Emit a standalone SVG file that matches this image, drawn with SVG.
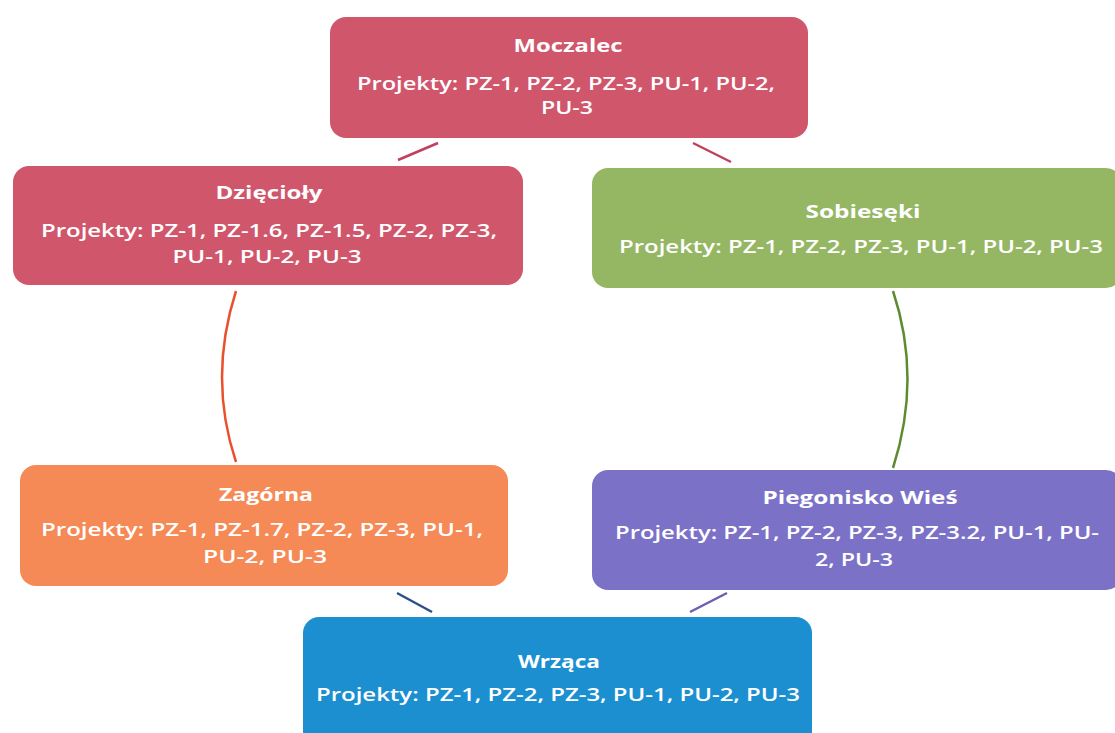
<svg xmlns="http://www.w3.org/2000/svg" width="1115" height="733" viewBox="0 0 1115 733">
<style>
.t{font-family:"Open Sans","Liberation Sans",sans-serif;font-weight:bold;font-size:18px;fill:#fff;text-anchor:middle}
.b{font-family:"Open Sans","Liberation Sans",sans-serif;font-weight:600;font-size:18px;fill:#fff;text-anchor:middle}
.c{fill:none;stroke-width:2.5}
</style>
<rect width="1115" height="733" fill="#fff"/>
<g id="connectors">
<path class="c" stroke="#c0405e" d="M438,143 L398,160"/>
<path class="c" stroke="#c0405e" d="M693,143 L731,162"/>
<path class="c" stroke="#5e8a30" stroke-width="2" d="M893,291 Q922,378 893,468"/>
<path class="c" stroke="#6a5fb5" d="M727,593 L690,612"/>
<path class="c" stroke="#2c4f8a" d="M397,593 L432,612"/>
<path class="c" stroke="#e8502e" stroke-width="1.5" d="M236,291 Q208,378 236,462"/>
</g>
<g id="moczalec">
<rect x="330" y="17" width="478" height="121" rx="16" fill="#d0566c"/>
<text class="t" x="568" y="52" textLength="109" lengthAdjust="spacingAndGlyphs">Moczalec</text>
<text class="b" x="566" y="90" textLength="418" lengthAdjust="spacingAndGlyphs">Projekty: PZ-1, PZ-2, PZ-3, PU-1, PU-2,</text>
<text class="b" x="567" y="114" textLength="52" lengthAdjust="spacingAndGlyphs">PU-3</text>
</g>
<g id="dziecioly">
<rect x="13" y="166" width="510" height="119" rx="16" fill="#d0566c"/>
<text class="t" x="269" y="199" textLength="107" lengthAdjust="spacingAndGlyphs">Dzięcioły</text>
<text class="b" x="269" y="237" textLength="456" lengthAdjust="spacingAndGlyphs">Projekty: PZ-1, PZ-1.6, PZ-1.5, PZ-2, PZ-3,</text>
<text class="b" x="267" y="263" textLength="189" lengthAdjust="spacingAndGlyphs">PU-1, PU-2, PU-3</text>
</g>
<g id="sobieski">
<rect x="592" y="168" width="530" height="120" rx="16" fill="#95b763"/>
<text class="t" x="863" y="218" textLength="115" lengthAdjust="spacingAndGlyphs">Sobiesęki</text>
<text class="b" x="861" y="253" textLength="484" lengthAdjust="spacingAndGlyphs">Projekty: PZ-1, PZ-2, PZ-3, PU-1, PU-2, PU-3</text>
</g>
<g id="zagorna">
<rect x="20" y="465" width="488" height="121" rx="16" fill="#f58a57"/>
<text class="t" x="266" y="501" textLength="94" lengthAdjust="spacingAndGlyphs">Zagórna</text>
<text class="b" x="262" y="536" textLength="442" lengthAdjust="spacingAndGlyphs">Projekty: PZ-1, PZ-1.7, PZ-2, PZ-3, PU-1,</text>
<text class="b" x="265" y="563" textLength="124" lengthAdjust="spacingAndGlyphs">PU-2, PU-3</text>
</g>
<g id="piegonisko">
<rect x="592" y="470" width="530" height="120" rx="16" fill="#7b72c8"/>
<text class="t" x="860" y="504" textLength="195" lengthAdjust="spacingAndGlyphs">Piegonisko Wieś</text>
<text class="b" x="857" y="539" textLength="484" lengthAdjust="spacingAndGlyphs">Projekty: PZ-1, PZ-2, PZ-3, PZ-3.2, PU-1, PU-</text>
<text class="b" x="854" y="566" textLength="78" lengthAdjust="spacingAndGlyphs">2, PU-3</text>
</g>
<g id="wrzaca">
<rect x="303" y="617" width="509" height="130" rx="16" fill="#1c8fd0"/>
<text class="t" x="559" y="668" textLength="82" lengthAdjust="spacingAndGlyphs">Wrząca</text>
<text class="b" x="558" y="701" textLength="484" lengthAdjust="spacingAndGlyphs">Projekty: PZ-1, PZ-2, PZ-3, PU-1, PU-2, PU-3</text>
</g>
</svg>
